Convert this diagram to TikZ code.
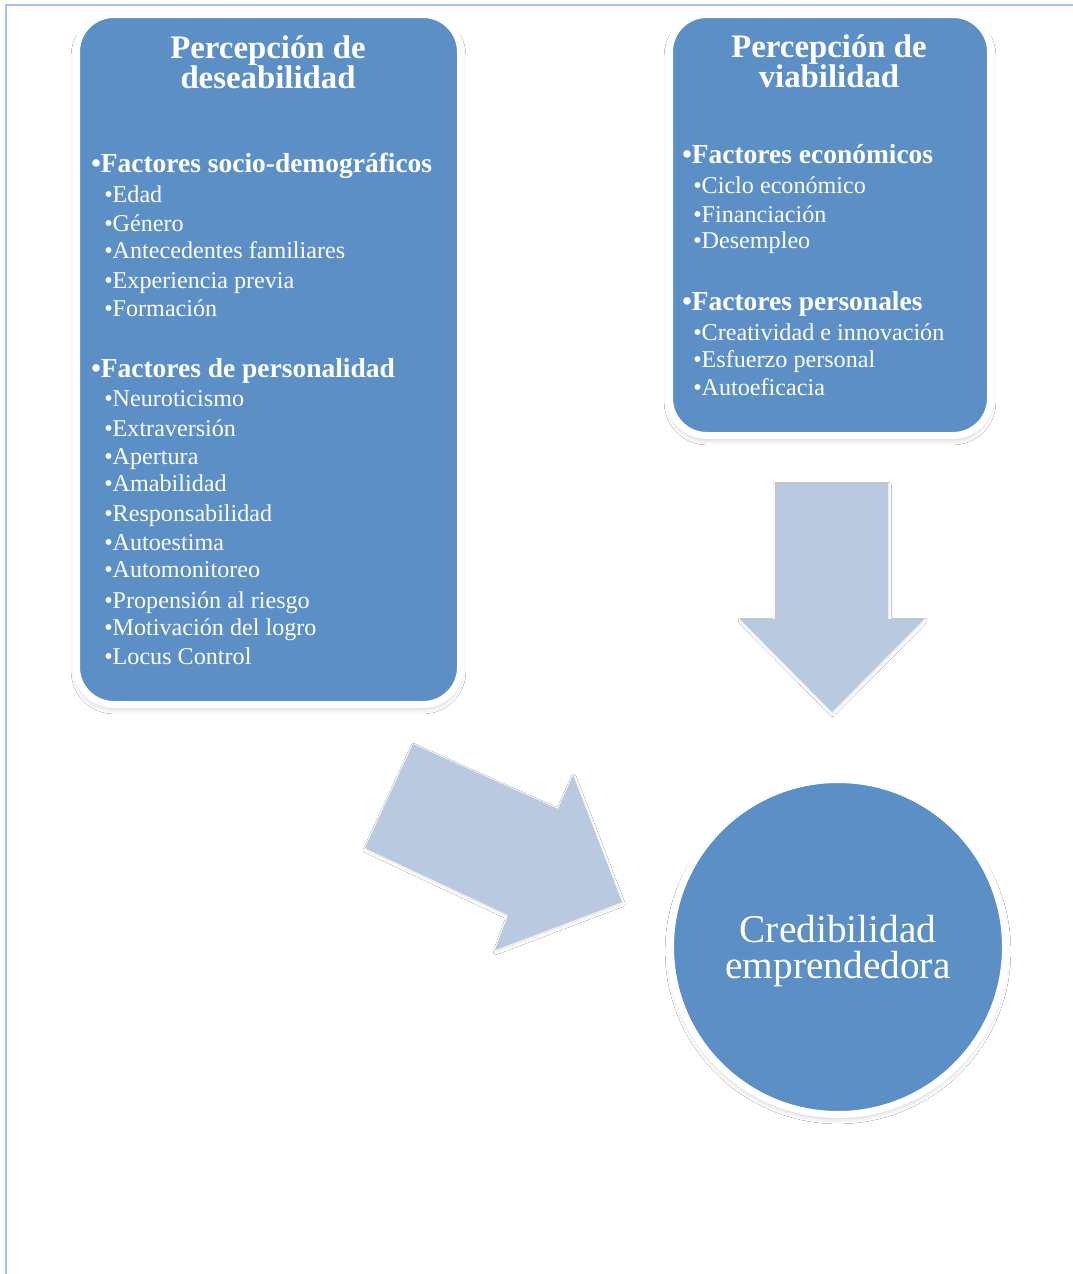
\documentclass[tikz,border=0pt]{standalone}
\usepackage{fontspec}
\setmainfont{Liberation Serif}
\usetikzlibrary{shadows.blur}
\definecolor{boxblue}{HTML}{5B8FC5}
\definecolor{arrowblue}{HTML}{B8C9E0}
\definecolor{framecol}{HTML}{A3C1EE}
\begin{document}
\begin{tikzpicture}[x=0.75pt,y=-0.75pt,
  panel/.style={draw=white, line width=5.25pt, fill=boxblue, rectangle,
    rounded corners=28pt, inner sep=0pt, outer sep=0pt,
    blur shadow={shadow xshift=0pt, shadow yshift=-3pt, shadow blur radius=4pt, shadow opacity=22}},
  disc/.style={draw=white, line width=5.25pt, fill=boxblue, circle,
    inner sep=0pt, outer sep=0pt,
    blur shadow={shadow xshift=0pt, shadow yshift=-3pt, shadow blur radius=4pt, shadow opacity=22}},
  blockarrow/.style={fill=arrowblue,
    blur shadow={shadow xshift=0.5pt, shadow yshift=-1.5pt, shadow blur radius=2pt, shadow opacity=10}},
  title/.style={text=white, inner sep=0pt, anchor=base, font=\fontsize{24.6}{30}\selectfont\bfseries},
  head/.style={text=white, inner sep=0pt, anchor=base west, font=\fontsize{20.6}{24}\selectfont\bfseries},
  item/.style={text=white, inner sep=0pt, anchor=base west, font=\fontsize{18.1}{22}\selectfont},
  big/.style={text=white, inner sep=0pt, anchor=base, font=\fontsize{29.5}{34}\selectfont}
]
% page area and its frame
\path[use as bounding box] (0,0) rectangle (1073,1274);
\fill[white] (0,0) rectangle (1073,1274);
\draw[framecol, line width=1.5pt] (6,1274) -- (6,5) -- (1073,5);

% panels
\node[panel, minimum width=288pt, minimum height=517.5pt] (des) at (268.5,359.5) {};
\node[panel, minimum width=240.75pt, minimum height=315.75pt] (via) at (830,225) {};
\node[disc, minimum size=251.25pt] (cred) at (838,947) {};

% block arrows
\fill[blockarrow] (775,483) -- (888,483) -- (888,619) -- (924,619) -- (832,712)
  -- (740,619) -- (775,619) -- cycle;
\fill[blockarrow] (413,744) -- (558,809) -- (573,775) -- (622,902) -- (495,950)
  -- (508,915) -- (365,848) -- cycle;

% desirability panel
\node[title] (desT1) at (268,58) {Percepción de};
\node[title] (desT2) at (268,88) {deseabilidad};
\node[head] (desH1) at (91,172) {•Factores socio-demográficos};
\foreach \t/\y [count=\i] in {Edad/202, Género/231, Antecedentes familiares/258,
    Experiencia previa/288, Formación/316}
  \node[item] (desA\i) at (104,\y) {•\t};
\node[head] (desH2) at (91,377) {•Factores de personalidad};
\foreach \t/\y [count=\i] in {Neuroticismo/406, Extraversión/436, Apertura/464,
    Amabilidad/491, Responsabilidad/521, Autoestima/550, Automonitoreo/577,
    Propensión al riesgo/608, Motivación del logro/635, Locus Control/664}
  \node[item] (desB\i) at (104,\y) {•\t};

% viability panel
\node[title] (viaT1) at (829,57) {Percepción de};
\node[title] (viaT2) at (829,87) {viabilidad};
\node[head] (viaH1) at (682,163) {•Factores económicos};
\foreach \t/\y [count=\i] in {Ciclo económico/193, Financiación/222, Desempleo/248}
  \node[item] (viaA\i) at (693,\y) {•\t};
\node[head] (viaH2) at (682,310) {•Factores personales};
\foreach \t/\y [count=\i] in {Creatividad e innovación/340, Esfuerzo personal/367,
    Autoeficacia/395}
  \node[item] (viaB\i) at (693,\y) {•\t};

% outcome
\node[big] (credT1) at (838,942) {Credibilidad};
\node[big] (credT2) at (838,978) {emprendedora};
\end{tikzpicture}
\end{document}
